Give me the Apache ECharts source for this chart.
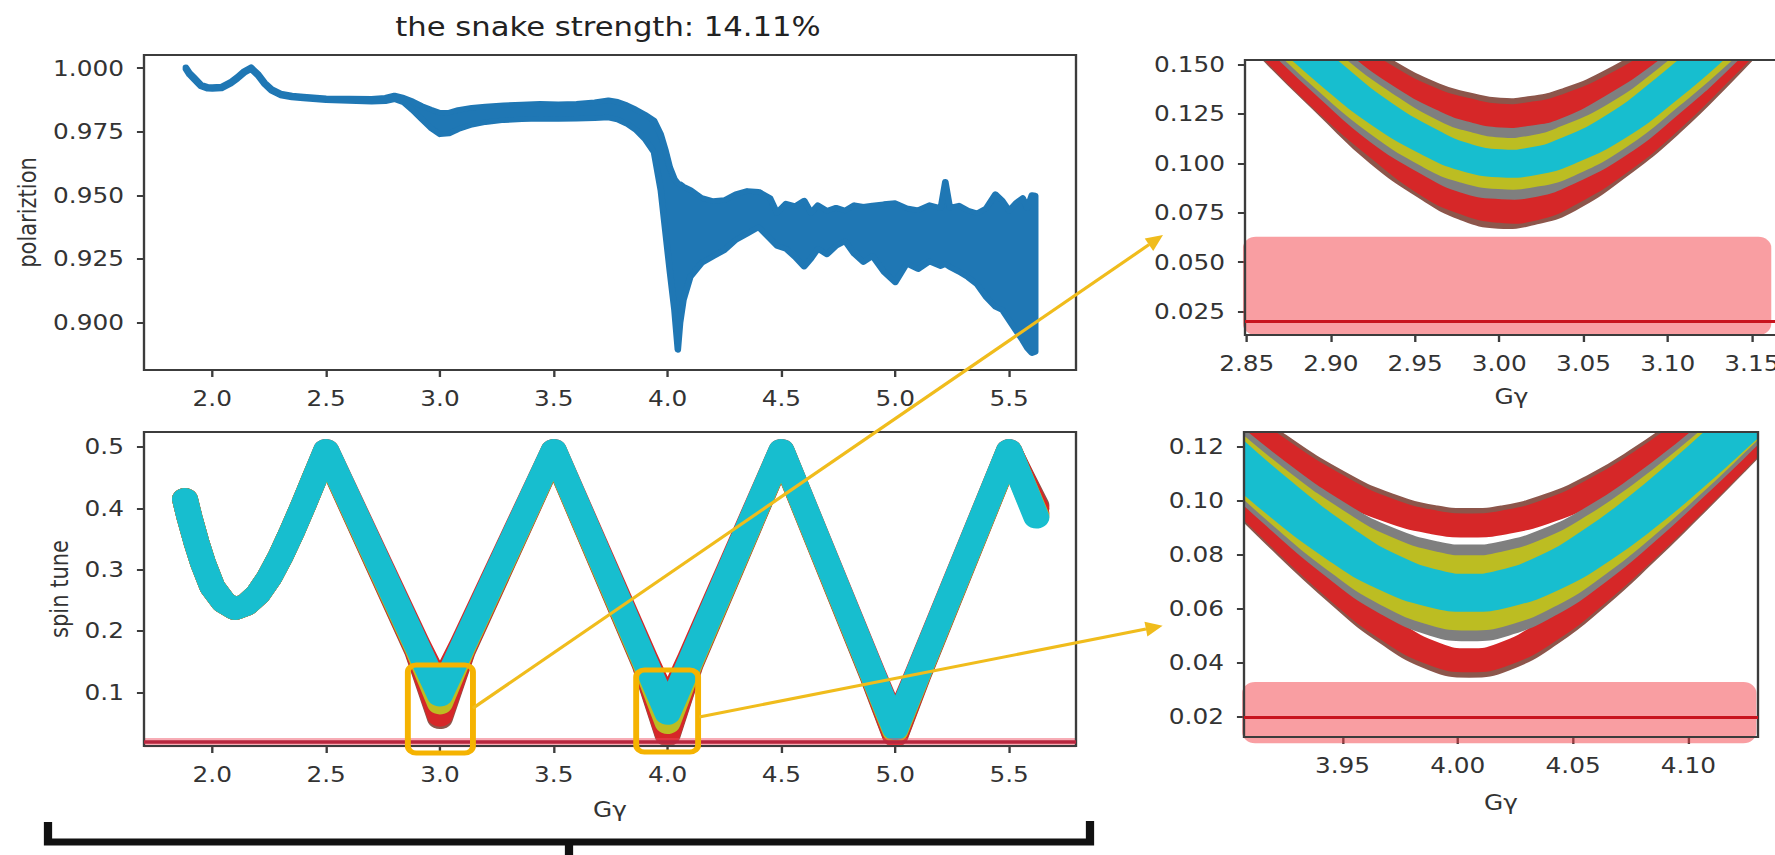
<!DOCTYPE html>
<html>
<head>
<meta charset="utf-8">
<title>the snake strength</title>
<script src="https://cdn.jsdelivr.net/npm/echarts@6.0.0/dist/echarts.min.js"></script>
<style>
  html, body { margin: 0; padding: 0; background: #ffffff; width: 1775px; height: 855px; overflow: hidden; }
  #chart { width: 1505px; height: 855px; transform: scaleX(1.1794020); transform-origin: 0 0; }
</style>
</head>
<body>
<div id="chart"></div>
<script>
// ================= DATA =================
// top panel: polarization band (upper / lower envelope of the fast oscillation)
const topGg = [1.884,1.90,1.92,1.95,1.98,2.00,2.04,2.08,2.11,2.14,2.17,2.20,2.23,2.26,2.30,2.35,2.40,2.50,2.60,2.70,
  2.76,2.80,2.84,2.88,2.92,2.96,3.00,3.04,3.08,3.14,3.20,3.28,3.36,3.44,3.52,3.60,3.68,3.74,3.78,3.82,
  3.86,3.90,3.94,3.97,3.99,4.01,4.03,4.045,4.055,4.07,4.10,4.15,4.20,4.25,4.30,4.35,4.40,4.45,4.48,4.52,
  4.56,4.60,4.63,4.66,4.70,4.74,4.78,4.82,4.86,4.90,4.95,5.00,5.05,5.10,5.15,5.20,5.22,5.24,5.28,5.32,
  5.36,5.40,5.44,5.47,5.50,5.53,5.56,5.58,5.60,5.615];
const topPolUpper = [1.0004,0.9982,0.9964,0.9936,0.9927,0.9926,0.9928,0.9946,0.9966,0.9989,1.0004,0.9979,0.9944,0.9919,0.9901,0.9893,0.9889,0.9882,0.9881,0.9880,
  0.9884,0.9893,0.9884,0.9870,0.9852,0.9838,0.9825,0.9826,0.9836,0.9845,0.9850,0.9855,0.9857,0.9860,0.9858,0.9860,0.9866,0.9874,0.9868,0.9855,
  0.9838,0.9818,0.9795,0.9740,0.9680,0.9610,0.9565,0.9548,0.9545,0.9535,0.9522,0.9490,0.9478,0.9482,0.9505,0.9518,0.9515,0.9490,0.9432,0.9468,
  0.9458,0.9480,0.9432,0.9462,0.9440,0.9452,0.9441,0.9462,0.9456,0.9461,0.9466,0.9470,0.9450,0.9442,0.9462,0.9450,0.9554,0.9452,0.9460,0.9441,
  0.9430,0.9450,0.9505,0.9480,0.9440,0.9470,0.9490,0.9450,0.9502,0.9500];
const topPolLower = [0.9996,0.9974,0.9956,0.9928,0.9919,0.9918,0.9920,0.9938,0.9958,0.9981,0.9996,0.9971,0.9936,0.9911,0.9893,0.9885,0.9881,0.9874,0.9871,0.9868,
  0.9870,0.9878,0.9866,0.9835,0.9800,0.9765,0.9740,0.9743,0.9760,0.9778,0.9788,0.9796,0.9799,0.9801,0.9800,0.9801,0.9803,0.9806,0.9798,0.9782,
  0.9758,0.9722,0.9670,0.9520,0.9360,0.9200,0.9050,0.8893,0.9000,0.9090,0.9180,0.9235,0.9260,0.9285,0.9325,0.9350,0.9375,0.9330,0.9302,0.9290,
  0.9258,0.9220,0.9252,0.9290,0.9268,0.9302,0.9320,0.9270,0.9238,0.9262,0.9200,0.9158,0.9232,0.9210,0.9240,0.9222,0.9230,0.9218,0.9200,0.9178,
  0.9150,0.9100,0.9062,0.9050,0.9010,0.8970,0.8930,0.8900,0.8880,0.8885];

// bottom-left panel: spin tune of the particles
const mainGg = [1.88,1.90,1.93,1.96,2.00,2.05,2.10,2.15,2.20,2.25,2.30,2.35,2.40,2.45,2.50,2.90,3.00,3.10,3.50,3.90,4.00,4.10,4.50,4.90,5.00,5.10,5.50,5.62];
const mainTuneBrownLow = [0.415,0.385,0.345,0.310,0.272,0.247,0.236,0.243,0.260,0.287,0.322,0.362,0.405,0.450,0.493,0.167,0.058,0.167,0.493,0.144,0.030,0.144,0.493,0.126,0.028,0.126,0.493,0.405];
const mainTuneRedLow   = [0.415,0.385,0.345,0.310,0.272,0.247,0.236,0.243,0.260,0.287,0.322,0.362,0.405,0.450,0.494,0.169,0.062,0.169,0.494,0.146,0.033,0.146,0.494,0.128,0.030,0.128,0.494,0.400];
const mainTuneRedHigh  = [0.415,0.385,0.345,0.310,0.272,0.247,0.236,0.243,0.260,0.287,0.322,0.362,0.405,0.450,0.495,0.180,0.106,0.180,0.495,0.157,0.076,0.157,0.495,0.133,0.045,0.133,0.495,0.392];
const mainTuneOliveLow = [0.415,0.385,0.345,0.310,0.272,0.247,0.236,0.243,0.260,0.287,0.322,0.362,0.405,0.450,0.494,0.172,0.082,0.172,0.494,0.148,0.050,0.148,0.494,0.129,0.036,0.129,0.494,0.388];
const mainTuneCyan     = [0.415,0.385,0.345,0.310,0.272,0.247,0.236,0.243,0.260,0.287,0.322,0.362,0.405,0.450,0.495,0.175,0.095,0.175,0.495,0.151,0.065,0.151,0.495,0.131,0.040,0.131,0.495,0.385];

// zoom around G*gamma = 3
const zoom1Gg = [2.84,2.87,2.90,2.93,2.96,2.98,3.00,3.02,3.04,3.07,3.10,3.13,3.16,3.18];
const zoom1BrownHi = [0.208,0.185,0.164,0.147,0.134,0.129,0.126,0.127,0.131,0.142,0.158,0.178,0.200,0.216];
const zoom1BrownLo = [0.181,0.154,0.129,0.105,0.087,0.078,0.074,0.076,0.082,0.099,0.120,0.145,0.172,0.190];
const zoom1RedHi   = [0.206,0.183,0.162,0.144,0.131,0.126,0.123,0.124,0.128,0.139,0.155,0.175,0.198,0.214];
const zoom1RedLo   = [0.182,0.155,0.130,0.108,0.089,0.081,0.077,0.078,0.085,0.101,0.122,0.147,0.173,0.191];
const zoom1GreyHi  = [0.199,0.175,0.153,0.134,0.120,0.114,0.111,0.112,0.116,0.129,0.146,0.167,0.191,0.207];
const zoom1GreyLo  = [0.188,0.162,0.138,0.116,0.100,0.092,0.089,0.090,0.096,0.110,0.130,0.153,0.179,0.196];
const zoom1OliveHi = [0.196,0.172,0.149,0.130,0.115,0.109,0.106,0.107,0.112,0.124,0.142,0.164,0.188,0.205];
const zoom1OliveLo = [0.190,0.165,0.141,0.120,0.104,0.097,0.094,0.095,0.100,0.114,0.134,0.156,0.181,0.199];
const zoom1Cyan    = [0.193,0.168,0.145,0.125,0.110,0.103,0.100,0.101,0.106,0.119,0.138,0.160,0.184,0.202];

// zoom around G*gamma = 4
const zoom2Gg = [3.89,3.92,3.95,3.97,3.99,4.005,4.02,4.04,4.06,4.08,4.10,4.12,4.14];
const zoom2BrownHi = [0.1417,0.1221,0.1061,0.0985,0.0940,0.0930,0.0940,0.0985,0.1061,0.1163,0.1283,0.1417,0.1562];
const zoom2BrownLo = [0.1138,0.0881,0.0643,0.0508,0.0414,0.0390,0.0414,0.0508,0.0643,0.0799,0.0966,0.1138,0.1315];
const zoom2RedHi   = [0.1404,0.1205,0.1044,0.0966,0.0921,0.0910,0.0921,0.0966,0.1044,0.1147,0.1268,0.1404,0.1551];
const zoom2RedLo   = [0.1145,0.0891,0.0656,0.0524,0.0433,0.0410,0.0433,0.0524,0.0656,0.0809,0.0974,0.1145,0.1321];
const zoom2GreyHi  = [0.1333,0.1121,0.0945,0.0859,0.0807,0.0795,0.0807,0.0859,0.0945,0.1058,0.1189,0.1333,0.1486];
const zoom2GreyLo  = [0.1191,0.0949,0.0733,0.0618,0.0543,0.0525,0.0543,0.0618,0.0733,0.0873,0.1028,0.1191,0.1361];
const zoom2OliveHi = [0.1309,0.1093,0.0912,0.0822,0.0768,0.0755,0.0768,0.0822,0.0912,0.1028,0.1162,0.1309,0.1465];
const zoom2OliveLo = [0.1210,0.0972,0.0762,0.0652,0.0582,0.0565,0.0582,0.0652,0.0762,0.0898,0.1049,0.1210,0.1377];
const zoom2Cyan    = [0.1257,0.1030,0.0835,0.0736,0.0675,0.0660,0.0675,0.0736,0.0835,0.0960,0.1103,0.1257,0.1418];

// resonance line and shaded bands (bottom-left, zoom 3, zoom 4)
const resonanceTune = 0.02;
const bandGgMin = [1.70, 2.8478, 3.9065];
const bandGgMax = [5.794, 3.1615, 4.1295];
const bandTuneMin = [0.0105, 0.0132, 0.0103];
const bandTuneMax = [0.0255, 0.0629, 0.0330];

// highlighted boxes in the bottom-left panel and arrows to the zooms
const boxGgMin = [2.859, 3.862];
const boxGgMax = [3.145, 4.134];
const boxTuneMin = [0.0011, 0.0028];
const boxTuneMax = [0.1445, 0.1363];
const arrowFromGg = [3.1445, 4.139];
const arrowFromTune = [0.074, 0.0598];
const arrowToGg = [2.8003, 3.872];
const arrowToTune = [0.0637, 0.0538];
const arrowToGrid = [2, 3];

// tick labels
const topTickGg = [2.0, 2.5, 3.0, 3.5, 4.0, 4.5, 5.0, 5.5];
const topTickPol = [0.900, 0.925, 0.950, 0.975, 1.000];
const bottomTickTune = [0.1, 0.2, 0.3, 0.4, 0.5];
const zoom1TickGg = [2.85, 2.90, 2.95, 3.00, 3.05, 3.10, 3.15];
const zoom1TickTune = [0.025, 0.050, 0.075, 0.100, 0.125, 0.150];
const zoom2TickGg = [3.95, 4.00, 4.05, 4.10];
const zoom2TickTune = [0.02, 0.04, 0.06, 0.08, 0.10, 0.12];

const titleText = 'the snake strength: 14.11%';

// ================= STYLE / LAYOUT =================
const SX = 1775 / 1505;           // the figure is horizontally stretched
const px = v => v / SX;           // reference-screen x -> chart x
const FONT = 'DejaVu Sans';
const TXT = '#333333';
const FS = 21;
const C = { blue: '#1f77b4', brown: '#8c564b', red: '#d62728', grey: '#7f7f7f', olive: '#bcbd22', cyan: '#17becf' };
const BOX = '#f5b301';
const ARROW = '#f0bc1c';

const chart = echarts.init(document.getElementById('chart'), null, { renderer: 'svg' });

function gridCfg(left, top, width, height) {
  return { left: px(left), top: top, width: px(width), height: height, show: true,
    borderColor: '#3c3c3c', borderWidth: 2, backgroundColor: 'rgba(0,0,0,0)',
    containLabel: false, outerBoundsMode: 'none', z: 4 };
}
function xAxisCfg(idx, min, max, ticks, dec, name, gap) {
  return { type: 'value', gridIndex: idx, min: min, max: max, position: 'bottom',
    name: name, nameLocation: 'middle', nameGap: gap,
    nameTextStyle: { fontFamily: FONT, fontSize: FS, color: TXT },
    axisLine: { show: false }, splitLine: { show: false },
    axisTick: { show: true, length: 7, lineStyle: { color: '#3c3c3c', width: 2 }, customValues: ticks },
    axisLabel: { show: true, margin: 18, fontFamily: FONT, fontSize: FS, color: TXT, customValues: ticks,
      formatter: v => Number(v).toFixed(dec) } };
}
function yAxisCfg(idx, min, max, ticks, dec, name, gap) {
  return { type: 'value', gridIndex: idx, min: min, max: max, position: 'left',
    name: name, nameLocation: 'middle', nameGap: gap,
    nameTextStyle: { fontFamily: FONT, fontSize: FS, color: TXT },
    axisLine: { show: false }, splitLine: { show: false },
    axisTick: { show: true, length: 6, lineStyle: { color: '#3c3c3c', width: 2 }, customValues: ticks },
    axisLabel: { show: true, margin: 17, fontFamily: FONT, fontSize: FS, color: TXT, customValues: ticks,
      formatter: v => Number(v).toFixed(dec) } };
}
// a thick curve, clipped exactly to its grid (custom series clip does not pad by line width)
function tuneCurve(idx, gg, vals, color, width, smooth) {
  return { type: 'custom', xAxisIndex: idx, yAxisIndex: idx, clip: true, silent: true,
    data: [[gg[0], vals[0]]],
    renderItem: function (params, api) {
      const pts = gg.map((g, i) => api.coord([g, vals[i]]));
      return { type: 'polyline', shape: { points: pts, smooth: smooth },
        style: { stroke: color, lineWidth: width, fill: 'none', lineCap: 'round', lineJoin: 'round' } };
    } };
}
function bandSeries(idx, k, radius, fill, lineColor, lineWidth) {
  return { type: 'custom', xAxisIndex: idx, yAxisIndex: idx, clip: false, silent: true, z: 3,
    data: [[bandGgMin[k], bandTuneMax[k], bandGgMax[k], bandTuneMin[k]]],
    renderItem: function (params, api) {
      const a = api.coord([api.value(0), api.value(1)]);
      const b = api.coord([api.value(2), api.value(3)]);
      return { type: 'rect', shape: { x: a[0], y: a[1], width: b[0] - a[0], height: b[1] - a[1], r: radius },
        style: { fill: fill } };
    },
    markLine: { silent: true, symbol: ['none', 'none'], label: { show: false }, animation: false,
      lineStyle: { color: lineColor, width: lineWidth, type: 'solid' },
      data: [{ yAxis: resonanceTune }] } };
}

const series = [];
// top-left polarization band
series.push({ type: 'custom', xAxisIndex: 0, yAxisIndex: 0, clip: true, silent: true,
  data: [[topGg[0], topPolUpper[0]]],
  renderItem: function (params, api) {
    const pts = [];
    for (let i = 0; i < topGg.length; i++) pts.push(api.coord([topGg[i], topPolUpper[i]]));
    for (let i = topGg.length - 1; i >= 0; i--) pts.push(api.coord([topGg[i], topPolLower[i]]));
    return { type: 'polygon', shape: { points: pts },
      style: { fill: C.blue, stroke: C.blue, lineWidth: 5.5, lineJoin: 'round' } };
  } });

// bottom-left spin tune
series.push(tuneCurve(1, mainGg, mainTuneBrownLow, C.brown, 22, 0));
series.push(tuneCurve(1, mainGg, mainTuneRedLow, C.red, 22, 0));
series.push(tuneCurve(1, mainGg, mainTuneRedHigh, C.red, 22, 0));
series.push(tuneCurve(1, mainGg, mainTuneOliveLow, C.olive, 22, 0));
series.push(tuneCurve(1, mainGg, mainTuneCyan, C.cyan, 22, 0));
series.push(bandSeries(1, 0, 0, 'rgba(238,70,90,0.45)', '#b8263e', 3.5));
// highlight boxes
series.push({ type: 'custom', xAxisIndex: 1, yAxisIndex: 1, clip: false, silent: true, z: 5,
  data: boxGgMin.map((g, i) => [g, boxTuneMax[i], boxGgMax[i], boxTuneMin[i]]),
  renderItem: function (params, api) {
    const a = api.coord([api.value(0), api.value(1)]);
    const b = api.coord([api.value(2), api.value(3)]);
    return { type: 'rect', shape: { x: a[0], y: a[1], width: b[0] - a[0], height: b[1] - a[1], r: 7 },
      style: { fill: 'none', stroke: BOX, lineWidth: 5 } };
  } });

// zoom 1 (G*gamma ~ 3)
[[zoom1BrownHi, C.brown], [zoom1BrownLo, C.brown], [zoom1RedHi, C.red], [zoom1RedLo, C.red],
 [zoom1GreyHi, C.grey], [zoom1GreyLo, C.grey], [zoom1OliveHi, C.olive], [zoom1OliveLo, C.olive],
 [zoom1Cyan, C.cyan]].forEach(s => series.push(tuneCurve(2, zoom1Gg, s[0], s[1], 28, 0.5)));
series.push(bandSeries(2, 1, 11, 'rgba(244,62,70,0.5)', '#c8141e', 3));

// zoom 2 (G*gamma ~ 4)
[[zoom2BrownHi, C.brown], [zoom2BrownLo, C.brown], [zoom2RedHi, C.red], [zoom2RedLo, C.red],
 [zoom2GreyHi, C.grey], [zoom2GreyLo, C.grey], [zoom2OliveHi, C.olive], [zoom2OliveLo, C.olive]]
 .forEach(s => series.push(tuneCurve(3, zoom2Gg, s[0], s[1], 24, 0.5)));
series.push(tuneCurve(3, zoom2Gg, zoom2Cyan, C.cyan, 38, 0.5));
series.push(bandSeries(3, 2, 11, 'rgba(244,62,70,0.5)', '#c8141e', 3));

const option = {
  animation: false,
  backgroundColor: '#ffffff',
  title: { text: titleText, left: px(608), top: 14, padding: 0, textAlign: 'center',
    textStyle: { fontFamily: FONT, fontSize: 26, fontWeight: 'normal', color: '#222222' } },
  grid: [gridCfg(144, 55, 932, 315), gridCfg(144, 432, 932, 314), gridCfg(1245, 60, 533, 275), gridCfg(1244, 432, 514, 305)],
  xAxis: [
    xAxisCfg(0, 1.70, 5.794, topTickGg, 1, '', 0),
    xAxisCfg(1, 1.70, 5.794, topTickGg, 1, 'G\u03b3', 53),
    xAxisCfg(2, 2.849, 3.1655, zoom1TickGg, 2, 'G\u03b3', 51),
    xAxisCfg(3, 3.9073, 4.1302, zoom2TickGg, 2, 'G\u03b3', 55)
  ],
  yAxis: [
    yAxisCfg(0, 0.8814, 1.0052, topTickPol, 3, 'polariztion', 86),
    yAxisCfg(1, 0.0125, 0.5244, bottomTickTune, 1, 'spin tune', 61),
    yAxisCfg(2, 0.0132, 0.1522, zoom1TickTune, 3, '', 0),
    yAxisCfg(3, 0.0126, 0.1256, zoom2TickTune, 2, '', 0)
  ],
  series: series
};
chart.setOption(option);

// arrows (from the boxes to the zoom panels) + bracket
const graphics = [];
for (let i = 0; i < arrowFromGg.length; i++) {
  const a = chart.convertToPixel({ gridIndex: 1 }, [arrowFromGg[i], arrowFromTune[i]]);
  const b = chart.convertToPixel({ gridIndex: arrowToGrid[i] }, [arrowToGg[i], arrowToTune[i]]);
  const ax = a[0] * SX, ay = a[1], bx = b[0] * SX, by = b[1];
  const dx = bx - ax, dy = by - ay, L = Math.hypot(dx, dy), ux = dx / L, uy = dy / L;
  const HL = 17, HW = 7.5;
  const baseX = bx - ux * HL, baseY = by - uy * HL;
  graphics.push({ type: 'line', silent: true, z: 100,
    shape: { x1: a[0], y1: a[1], x2: baseX / SX, y2: baseY },
    style: { stroke: ARROW, lineWidth: 3 } });
  graphics.push({ type: 'polygon', silent: true, z: 100,
    shape: { points: [[bx / SX, by], [(baseX - uy * HW) / SX, baseY + ux * HW], [(baseX + uy * HW) / SX, baseY - ux * HW]] },
    style: { fill: ARROW } });
}
graphics.push({ type: 'polyline', silent: true, z: 100,
  shape: { points: [[px(48), 822], [px(48), 842], [px(1090), 842], [px(1090), 821]] },
  style: { stroke: '#111111', lineWidth: 7, fill: 'none', lineJoin: 'miter' } });
graphics.push({ type: 'line', silent: true, z: 100,
  shape: { x1: px(569), y1: 842, x2: px(569), y2: 862 },
  style: { stroke: '#111111', lineWidth: 7 } });
chart.setOption({ graphic: graphics });
</script>
</body>
</html>
